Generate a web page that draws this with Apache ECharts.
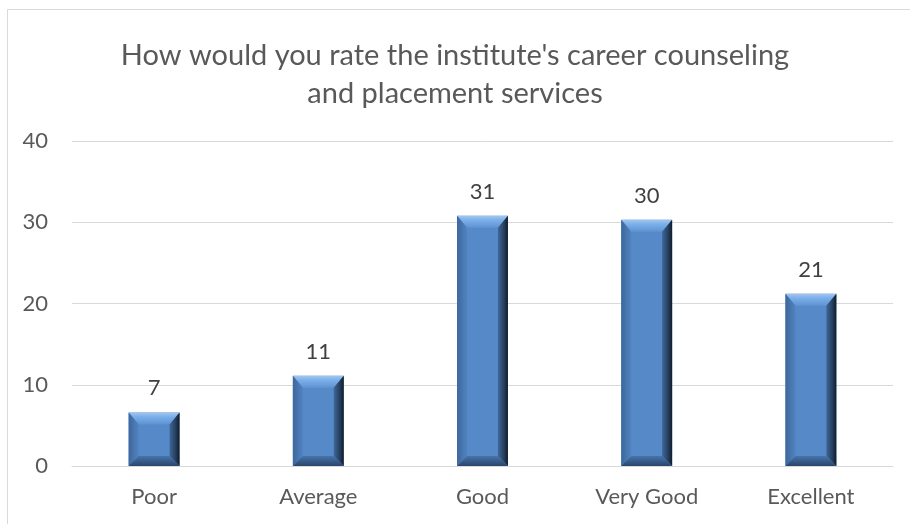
<!DOCTYPE html>
<html><head><meta charset="utf-8">
<script src="https://cdn.jsdelivr.net/npm/echarts@6/dist/echarts.min.js"></script>
<style>html,body{margin:0;padding:0;background:#fff}#c{width:910px;height:524px}</style>
</head><body><div id="c"></div>
<script>
var titleText = "How would you rate the institute's career counseling\nand placement services";
var categories = ["Poor", "Average", "Good", "Very Good", "Excellent"];
var values = [6.6, 11.1, 30.8, 30.3, 21.2];
var yTicks = [0, 10, 20, 30, 40];

var FONT = "Lato";
var chart = echarts.init(document.getElementById('c'), null, {renderer: 'canvas'});

function renderBar(params, api) {
  var top = api.coord([api.value(0), api.value(1)]);
  var base = api.coord([api.value(0), 0]);
  var w = api.size([1, 0])[0] * 0.31;
  var l = top[0] - w / 2, r = top[0] + w / 2, t = top[1], b = base[1];
  var bv = Math.min(10, (b - t) / 2);
  var bt = Math.min(12, (b - t) / 2);
  return {
    type: 'group',
    children: [
      {type: 'rect', shape: {x: l, y: t, width: w, height: b - t}, style: {fill: '#5689c8'}},
      {type: 'polygon', shape: {points: [[l, t], [r, t], [r - bv, t + bt], [l + bv, t + bt]]},
        style: {fill: new echarts.graphic.LinearGradient(0, 0, 0, 1, [{offset: 0, color: '#a3c6ef'}, {offset: 0.35, color: '#7cb0ea'}, {offset: 1, color: '#5e93d2'}])}},
      {type: 'polygon', shape: {points: [[l, t], [l + bv, t + bt], [l + bv, b - bv], [l, b]]},
        style: {fill: new echarts.graphic.LinearGradient(0, 0, 1, 0, [{offset: 0, color: '#3d679c'}, {offset: 1, color: '#5283c0'}])}},
      {type: 'polygon', shape: {points: [[r, t], [r, b], [r - bv, b - bv], [r - bv, t + bt]]},
        style: {fill: new echarts.graphic.LinearGradient(0, 0, 1, 0, [{offset: 0, color: '#3f6798'}, {offset: 0.6, color: '#263f5f'}, {offset: 1, color: '#101c2b'}])}},
      {type: 'polygon', shape: {points: [[l, b], [r, b], [r - bv, b - bv], [l + bv, b - bv]]},
        style: {fill: new echarts.graphic.LinearGradient(0, 0, 0, 1, [{offset: 0, color: '#4674ad'}, {offset: 1, color: '#2a4669'}])}},
      {type: 'text', style: {text: String(Math.round(api.value(1))), x: top[0], y: t - 24, align: 'center', verticalAlign: 'middle', fill: '#404040', font: '22px ' + FONT}}
    ]
  };
}

chart.setOption({
  animation: false,
  title: {text: titleText, left: 'center', top: 32, textStyle: {fontFamily: FONT, fontSize: 29, fontWeight: 'normal', color: '#595959', lineHeight: 38}},
  graphic: [{type: 'rect', shape: {x: 7.5, y: 9.5, width: 920, height: 530}, style: {fill: 'none', stroke: '#d9d9d9', lineWidth: 1}, silent: true, z: -1}],
  grid: {left: 72, right: 17, top: 141, bottom: 58},
  xAxis: {type: 'category', data: categories,
    axisLine: {show: true, lineStyle: {color: '#d9d9d9', width: 1}}, axisTick: {show: false},
    axisLabel: {fontFamily: FONT, fontSize: 22, color: '#595959', margin: 20}},
  yAxis: {type: 'value', min: yTicks[0], max: yTicks[yTicks.length - 1], interval: 10,
    axisLine: {show: false}, axisTick: {show: false},
    splitLine: {lineStyle: {color: '#d9d9d9', width: 1}},
    axisLabel: {fontFamily: FONT, fontSize: 22, color: '#595959', margin: 24}},
  series: [{type: 'custom', renderItem: renderBar, encode: {x: 0, y: 1},
    data: values.map(function (v, i) { return [i, v]; })}]
});
</script></body></html>
